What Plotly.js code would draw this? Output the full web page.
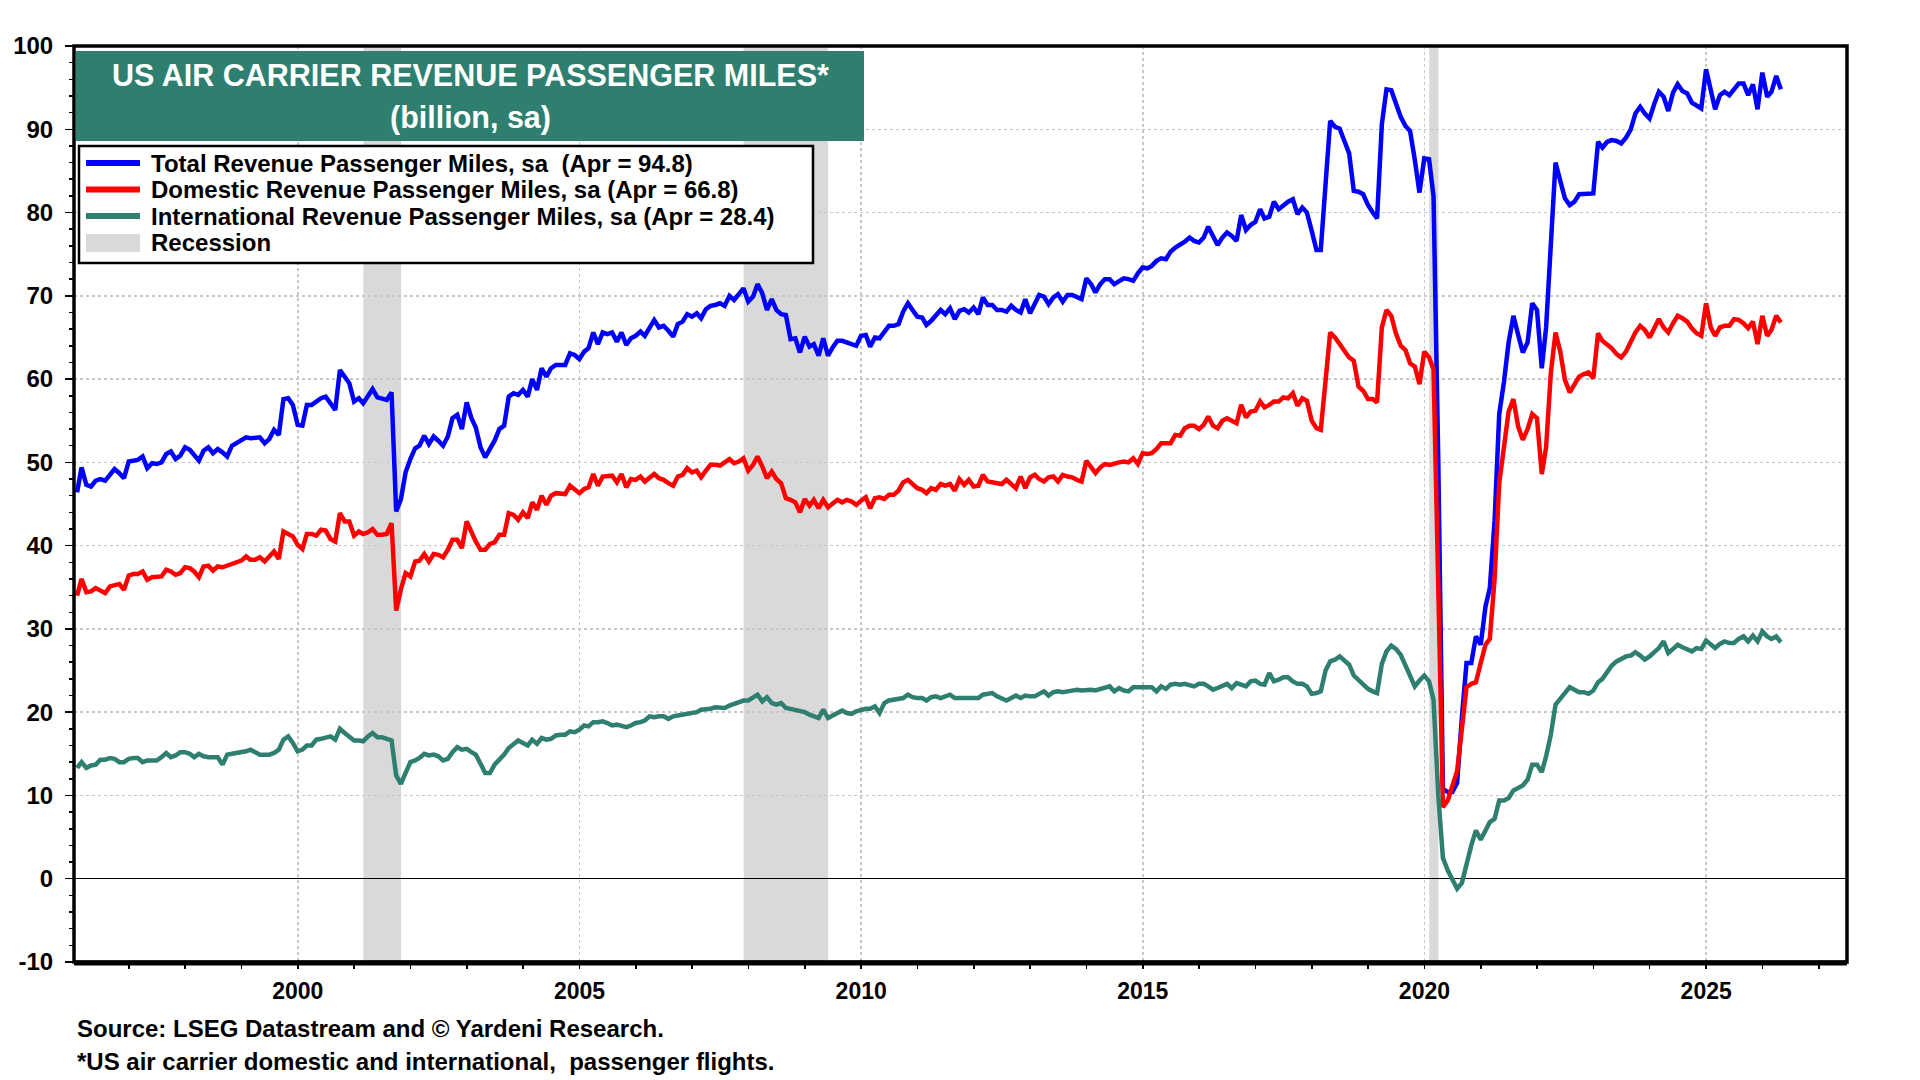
<!DOCTYPE html>
<html>
<head>
<meta charset="utf-8">
<script src="https://cdn.plot.ly/plotly-3.0.1.min.js"></script>
<style>
  html, body { margin: 0; padding: 0; background: #fff; }
  #chart { width: 1920px; height: 1080px; }
</style>
</head>
<body>
<div id="chart"></div>
<script>
// monthly values, Jan 1996 .. Apr 2026, billion miles, seasonally adjusted
const startYear = 1996;

const totalRpm = [
  46.4, 49.4, 47.3, 47.1, 47.8, 48.0, 47.8, 48.6, 49.2, 48.7,
  48.1, 50.1, 50.2, 50.3, 50.7, 49.3, 49.9, 49.8, 50.0, 51.0,
  51.3, 50.4, 50.8, 51.8, 51.5, 50.8, 50.2, 51.4, 51.8, 51.1,
  51.6, 51.2, 50.7, 52.0, 52.3, 52.6, 53.0, 52.9, 53.0, 53.0,
  52.3, 52.8, 53.9, 53.3, 57.6, 57.7, 56.9, 54.5, 54.4, 56.9,
  56.9, 57.3, 57.7, 57.9, 57.1, 56.3, 61.1, 60.3, 59.5, 57.3,
  57.7, 57.1, 58.0, 58.8, 57.8, 57.6, 57.5, 58.4, 44.1,
  45.6, 48.8, 50.4, 51.7, 52.0, 53.2, 52.2, 53.1, 52.6, 52.0,
  53.1, 55.3, 55.7, 54.0, 57.2, 55.3, 54.2, 51.8, 50.6, 51.6,
  52.6, 54.0, 54.4, 57.9, 58.3, 58.1, 58.7, 57.9, 60.0, 58.7,
  61.3, 60.3, 61.3, 61.7, 61.7, 61.7, 63.1, 62.9, 62.4, 63.3,
  63.7, 65.6, 64.2, 65.6, 65.4, 65.6, 64.5, 65.6, 64.1, 64.9,
  65.2, 65.7, 65.2, 66.2, 67.1, 66.2, 66.4, 65.8, 65.1, 66.6,
  66.9, 67.8, 67.5, 67.9, 67.3, 68.4, 68.8, 68.9, 69.1,
  68.8, 70.0, 69.5, 70.2, 70.9, 69.3, 69.9, 71.4,
  70.3, 68.3, 69.6, 68.3, 67.8, 67.7, 64.8, 64.9, 63.2, 65.1,
  63.9, 64.2, 62.8, 64.9, 62.8, 63.8, 64.6, 64.6, 64.4, 64.1,
  64.0, 65.2, 65.3, 63.9, 65.0, 64.9, 65.7, 66.4, 66.4, 66.6,
  68.1, 69.1, 68.3, 67.5, 67.4, 66.5, 67.0, 67.6, 68.3, 67.8,
  68.5, 67.2, 68.2, 68.4, 68.0, 68.6, 67.8, 69.8, 68.9, 68.9,
  68.3, 68.3, 68.1, 68.8, 68.3, 68.0, 69.6, 67.9,
  69.0, 70.1, 69.9, 69.0, 69.8, 70.2, 69.3, 70.1, 70.1, 69.9,
  69.6, 72.1, 71.4, 70.4, 71.4, 72.0, 72.0, 71.4, 71.7, 72.1,
  72.0, 71.8, 72.7, 73.4, 73.3, 73.6, 74.2, 74.5, 74.4, 75.3,
  75.8, 76.1, 76.5, 77.0, 76.6, 76.4, 77.0, 78.3, 77.3, 76.1,
  77.0, 77.6, 77.2, 76.6, 79.7, 77.9, 78.5, 78.9, 80.4, 79.3,
  79.5, 81.3, 80.4, 80.9, 81.3, 81.6, 79.8, 80.6, 80.0, 77.8,
  75.5, 75.5, 84.0, 91.0, 90.3, 90.1, 88.6, 87.1, 82.6, 82.5,
  82.2, 80.9, 80.0, 79.3, 90.6, 94.8, 94.7, 93.2, 91.5, 90.4,
  89.8, 86.3, 82.4, 86.5, 86.4, 82.0, 50.0, 10.8, 10.4, 10.4,
  11.5, 19.4, 25.9, 25.9, 29.1, 28.1, 32.7, 34.9, 43.0, 55.8,
  59.7, 64.4, 67.6, 65.3, 63.2, 64.4, 69.1, 68.3, 61.3, 66.2,
  77.0, 86.0, 83.8, 81.7, 80.9, 81.3, 82.2, 82.2, 82.2, 82.3,
  88.5, 87.8, 88.5, 88.7, 88.6, 88.3, 89.0, 90.0, 91.9, 92.7,
  91.9, 91.3, 93.1, 94.5, 93.9, 92.2, 94.4, 95.4, 94.6, 94.3,
  93.2, 92.9, 92.5, 97.2, 94.8, 92.4, 94.1, 94.5, 94.1, 94.8,
  95.5, 95.5, 94.1, 95.4, 92.4, 96.8, 93.9, 94.5, 96.4, 94.8
];

const domesticRpm = [
  34.0, 36.0, 34.4, 34.5, 34.9, 34.6, 34.3, 35.1, 35.3, 35.4,
  34.7, 36.4, 36.6, 36.6, 36.9, 35.9, 36.2, 36.3, 36.3, 37.1,
  36.9, 36.5, 36.7, 37.4, 37.3, 36.9, 36.2, 37.5, 37.6, 37.0,
  37.5, 37.4, 37.6, 37.8, 38.0, 38.2, 38.7, 38.3, 38.3, 38.6,
  38.1, 38.7, 39.3, 38.4, 41.7, 41.4, 41.1, 40.1, 39.6, 41.4,
  41.4, 41.2, 41.9, 41.8, 40.8, 40.5, 43.9, 42.9, 42.9, 41.2,
  41.7, 41.4, 41.6, 42.0, 41.3, 41.3, 41.4, 42.7, 32.2,
  34.8, 36.7, 36.3, 38.1, 38.2, 39.0, 38.1, 39.0, 38.9, 38.6,
  39.5, 40.7, 40.7, 39.7, 42.9, 41.5, 40.5, 39.5, 39.5, 40.2,
  40.4, 41.3, 41.3, 43.9, 43.7, 43.1, 44.0, 43.3, 45.2, 44.3,
  46.0, 44.9, 46.0, 46.3, 46.3, 46.2, 47.2, 46.7, 46.3, 46.8,
  47.0, 48.6, 47.2, 48.3, 48.3, 48.4, 47.6, 48.6, 47.0, 48.0,
  47.9, 48.3, 47.7, 48.1, 48.6, 48.1, 47.9, 47.5, 47.2, 48.3,
  48.5, 49.3, 48.8, 49.0, 48.2, 49.0, 49.7, 49.7, 49.6,
  50.0, 50.4, 49.9, 50.1, 50.5, 49.0, 49.7, 50.7,
  49.5, 48.1, 48.9, 48.0, 47.5, 45.7, 45.5, 45.2, 44.0, 45.6,
  44.8, 45.5, 44.5, 45.5, 44.6, 45.1, 45.5, 45.2, 45.5, 45.3,
  44.9, 45.4, 45.8, 44.5, 45.7, 45.8, 45.6, 46.1, 46.1, 46.6,
  47.6, 47.9, 47.4, 46.9, 46.7, 46.3, 46.9, 46.7, 47.4, 47.2,
  47.4, 46.6, 48.0, 47.3, 47.9, 47.1, 47.2, 48.5, 47.7, 47.6,
  47.4, 47.4, 47.9, 47.4, 46.9, 48.3, 46.9, 48.2,
  48.5, 48.0, 47.7, 48.2, 48.3, 47.7, 48.5, 48.3, 48.2, 47.9,
  47.7, 50.2, 49.4, 48.7, 49.4, 49.8, 49.7, 49.9, 50.0, 50.1,
  50.0, 50.5, 49.8, 51.1, 51.0, 51.1, 51.6, 52.3, 52.3, 52.3,
  53.3, 53.2, 54.1, 54.4, 54.4, 54.0, 54.5, 55.5, 54.4, 54.1,
  55.0, 55.3, 55.0, 54.7, 56.9, 55.4, 56.1, 56.2, 57.3, 56.6,
  56.9, 57.3, 57.3, 57.8, 57.7, 58.3, 56.8, 57.7, 57.4, 55.0,
  54.1, 53.9, 59.8, 65.6, 65.0, 64.2, 63.6, 62.6, 62.2, 59.1,
  58.6, 57.6, 57.6, 57.2, 66.2, 68.3, 67.6, 65.5, 64.0, 63.5,
  61.9, 61.5, 59.4, 63.3, 62.6, 61.2, 35.0, 8.6, 9.4, 11.2,
  12.9, 18.0, 23.0, 23.4, 23.6, 25.9, 28.1, 28.8, 36.0, 47.5,
  51.8, 56.1, 57.6, 54.3, 52.7, 54.0, 55.8, 55.3, 48.6, 51.8,
  60.8, 65.6, 63.3, 59.9, 58.4, 59.4, 60.3, 60.6, 60.8, 60.1,
  65.5, 64.6, 64.1, 63.7, 63.0, 62.6, 63.3, 64.4, 65.6, 66.4,
  65.9, 65.0, 66.2, 67.2, 66.2, 65.6, 66.7, 67.6, 67.3, 66.9,
  66.1, 65.5, 65.2, 69.1, 66.2, 65.2, 66.2, 66.4, 66.4, 67.2,
  67.1, 66.7, 66.1, 66.9, 64.2, 67.6, 65.2, 65.9, 67.6, 66.8
];

const internationalRpm = [
  13.3, 14.0, 13.3, 13.6, 13.7, 14.3, 14.3, 14.5, 14.4, 14.0,
  14.0, 14.4, 14.5, 14.5, 14.0, 14.2, 14.2, 14.2, 14.6, 15.1,
  14.6, 14.8, 15.2, 15.2, 15.0, 14.6, 15.0, 14.7, 14.6, 14.6,
  14.6, 13.7, 14.9, 15.0, 15.1, 15.1, 15.3, 15.5, 15.2, 14.9,
  14.9, 14.9, 15.1, 15.5, 16.7, 17.1, 16.3, 15.3, 15.5, 16.0,
  16.0, 16.7, 16.8, 17.0, 17.1, 16.7, 18.0, 17.5, 17.1, 16.6,
  16.6, 16.5, 17.1, 17.5, 17.0, 17.0, 16.8, 16.6, 12.4,
  11.4, 12.7, 14.0, 14.2, 14.5, 15.0, 14.8, 14.9, 14.7, 14.2,
  14.4, 15.2, 15.8, 15.5, 15.6, 15.2, 14.9, 13.8, 12.7, 12.7,
  13.7, 14.3, 14.9, 15.7, 16.2, 16.6, 16.3, 16.0, 16.7, 16.2,
  16.9, 16.7, 16.8, 17.2, 17.3, 17.3, 17.7, 17.6, 17.9, 18.4,
  18.3, 18.8, 18.8, 18.9, 18.7, 18.4, 18.5, 18.4, 18.2, 18.4,
  18.7, 18.8, 19.0, 19.5, 19.4, 19.5, 19.5, 19.2, 19.5, 19.6,
  19.7, 19.7, 19.8, 20.0, 20.3, 20.3, 20.4, 20.6, 20.6,
  20.5, 20.8, 21.0, 21.2, 21.4, 21.4, 21.7, 22.1,
  21.3, 21.8, 21.1, 20.9, 21.1, 20.5, 20.4, 20.3, 20.2, 20.0,
  19.7, 19.5, 19.3, 20.3, 19.3, 19.6, 19.9, 20.2, 19.9, 19.8,
  20.1, 20.3, 20.4, 20.4, 20.7, 19.9, 21.1, 21.4, 21.5, 21.5,
  21.7, 22.1, 21.8, 21.7, 21.7, 21.4, 21.8, 21.9, 21.7, 21.9,
  22.1, 21.7, 21.7, 21.7, 21.7, 21.8, 21.7, 22.1, 22.2, 22.3,
  21.9, 21.6, 21.4, 21.7, 22.0, 21.7, 22.0, 21.9,
  21.9, 22.2, 22.5, 22.0, 22.4, 22.5, 22.4, 22.5, 22.6, 22.7,
  22.6, 22.7, 22.7, 22.6, 22.8, 23.0, 23.1, 22.5, 22.9, 22.6,
  22.5, 23.0, 23.0, 23.0, 23.0, 23.0, 22.5, 23.1, 22.8, 23.3,
  23.4, 23.3, 23.4, 23.2, 23.1, 23.4, 23.4, 23.1, 22.7, 22.9,
  23.1, 23.4, 22.9, 23.5, 23.3, 23.1, 23.7, 23.8, 23.4, 23.3,
  24.7, 23.7, 23.9, 24.2, 24.2, 23.7, 23.4, 23.4, 23.1, 22.2,
  22.3, 22.5, 25.0, 26.1, 26.3, 26.7, 26.2, 25.7, 24.4, 23.9,
  23.3, 22.8, 22.5, 22.3, 25.8, 27.3, 28.0, 27.6, 26.9, 25.5,
  24.4, 23.1, 23.8, 24.4, 23.7, 21.5, 10.0, 2.5, 1.0, 0.0,
  -1.2, -0.5, 2.0, 4.0, 5.8, 4.7, 5.8, 6.8, 7.2, 9.4,
  9.4, 9.7, 10.6, 10.9, 11.2, 11.9, 13.7, 13.7, 12.8, 14.7,
  17.3, 20.9, 21.6, 22.3, 23.0, 22.7, 22.4, 22.4, 22.2, 22.6,
  23.6, 24.0, 24.9, 25.6, 26.1, 26.4, 26.7, 26.8, 27.2, 26.8,
  26.3, 26.7, 27.2, 27.7, 28.5, 27.1, 27.6, 28.1, 27.8, 27.6,
  27.3, 27.7, 27.6, 28.6, 28.2, 27.7, 28.2, 28.5, 28.3, 28.3,
  28.8, 29.1, 28.5, 29.2, 28.5, 29.7, 29.1, 28.8, 29.1, 28.4
];

const recessionStart = ['2001-03-01', '2007-12-01', '2020-02-01'];
const recessionEnd = ['2001-11-01', '2009-06-01', '2020-04-01'];

const yTickValues = [-10, 0, 10, 20, 30, 40, 50, 60, 70, 80, 90, 100];
const yTickLabels = yTickValues.map(v => String(v));

const seriesNames = [
  'Total Revenue Passenger Miles, sa\u00a0\u00a0(Apr = 94.8)',
  'Domestic Revenue Passenger Miles, sa (Apr = 66.8)',
  'International Revenue Passenger Miles, sa (Apr = 28.4)'
];
const recessionLabel = 'Recession';
const chartTitle = 'US AIR CARRIER REVENUE PASSENGER MILES*';
const chartSubtitle = '(billion, sa)';
const footnotes = [
  'Source: LSEG Datastream and \u00a9 Yardeni Research.',
  '*US air carrier domestic and international,\u00a0\u00a0passenger flights.'
];

// points sit at the end of each month
const dates = totalRpm.map((_, i) =>
  new Date(Date.UTC(startYear, i + 1, 0)).toISOString().slice(0, 10));

const FONT = 'Liberation Sans, Arial, sans-serif';
const TEAL = '#2e7f70';

// plot area in page pixels, used to place the boxes and notes
const plotLeft = 74, plotRight = 1847, plotTop = 46, plotBottom = 962;
function px(x) { return (x - plotLeft) / (plotRight - plotLeft); }
function py(y) { return (plotBottom - y) / (plotBottom - plotTop); }

const colors = ['#0000ff', '#ff0000', TEAL];
const traces = [totalRpm, domesticRpm, internationalRpm].map((vals, k) => ({
  x: dates,
  y: vals,
  type: 'scatter',
  mode: 'lines',
  name: seriesNames[k],
  line: { color: colors[k], width: 4.5 },
  hoverinfo: 'skip'
}));

const shapes = [];
recessionStart.forEach((s, k) => {
  shapes.push({
    type: 'rect', xref: 'x', yref: 'paper',
    x0: s, x1: recessionEnd[k], y0: 0, y1: 1,
    fillcolor: '#d9d9d9', line: { width: 0 }, layer: 'below'
  });
});

// frame, heavier along the bottom
shapes.push(
  { type: 'rect', xref: 'paper', yref: 'paper', x0: 0, x1: 1, y0: 0, y1: 1,
    line: { color: '#000', width: 3.5 }, layer: 'above' },
  { type: 'line', xref: 'paper', yref: 'paper', x0: 0, x1: 1, y0: py(963), y1: py(963),
    line: { color: '#000', width: 5 }, layer: 'above' }
);

// title box
shapes.push({
  type: 'rect', xref: 'paper', yref: 'paper',
  x0: px(76), x1: px(864), y0: py(141), y1: py(51),
  fillcolor: TEAL, line: { width: 0 }, layer: 'above'
});

// legend box
shapes.push({
  type: 'rect', xref: 'paper', yref: 'paper',
  x0: px(79), x1: px(813), y0: py(263), y1: py(146),
  fillcolor: '#fff', line: { color: '#000', width: 2.5 }, layer: 'above'
});
const rowY = [163, 189.5, 216, 242.5];
colors.forEach((c, k) => {
  shapes.push({
    type: 'line', xref: 'paper', yref: 'paper',
    x0: px(86), x1: px(140), y0: py(rowY[k]), y1: py(rowY[k]),
    line: { color: c, width: 6 }, layer: 'above'
  });
});
shapes.push({
  type: 'rect', xref: 'paper', yref: 'paper',
  x0: px(86), x1: px(140), y0: py(252), y1: py(234),
  fillcolor: '#d9d9d9', line: { width: 0 }, layer: 'above'
});

const annotations = [
  { text: chartTitle, x: px(470), y: py(75), size: 30.5, color: '#fff', xanchor: 'center' },
  { text: chartSubtitle, x: px(470), y: py(118), size: 30.5, color: '#fff', xanchor: 'center' }
];
seriesNames.concat([recessionLabel]).forEach((t, k) => {
  annotations.push({ text: t, x: px(149), y: py(rowY[k]), size: 24, color: '#000', xanchor: 'left' });
});
annotations.push(
  { text: footnotes[0], x: px(75), y: py(1028), size: 24, color: '#000', xanchor: 'left' },
  { text: footnotes[1], x: px(75), y: py(1061), size: 24, color: '#000', xanchor: 'left' }
);

const yTickStyle = {
  range: [-10, 100],
  tickmode: 'array',
  tickvals: yTickValues,
  ticktext: yTickLabels,
  tickwidth: 1.5, tickcolor: '#000', ticks: 'outside',
  tickfont: { family: FONT, size: 24, weight: 'bold', color: '#000' },
  minor: { dtick: 2, ticks: 'outside', ticklen: 4, tickwidth: 1.5,
           tickcolor: '#000', showgrid: false }
};

const layout = {
  width: 1920,
  height: 1080,
  margin: { l: plotLeft, r: 1920 - plotRight, t: plotTop, b: 1080 - plotBottom },
  paper_bgcolor: '#fff',
  plot_bgcolor: 'rgba(0,0,0,0)',
  showlegend: false,
  font: { family: FONT, color: '#000' },
  xaxis: {
    type: 'date',
    range: ['1996-01-11', '2027-07-03'],
    tick0: '2000-01-01',
    dtick: 'M60',
    tickformat: '%Y',
    ticks: 'outside', ticklen: 6, tickwidth: 1.5, tickcolor: '#000',
    tickfont: { family: FONT, size: 23, weight: 'bold', color: '#000' },
    ticklabelstandoff: 2,
    showgrid: true, gridcolor: '#c8c8c8', griddash: 'dot', gridwidth: 1.5,
    showline: false, zeroline: false,
    minor: { dtick: 'M12', tick0: '2000-01-01', ticks: 'outside', ticklen: 6,
             tickwidth: 1.5, tickcolor: '#000', showgrid: false }
  },
  yaxis: Object.assign({}, yTickStyle, {
    ticklen: 8,
    ticklabelstandoff: 7,
    showgrid: true, gridcolor: '#c8c8c8', griddash: 'dot', gridwidth: 1.5,
    zeroline: true, zerolinecolor: '#000', zerolinewidth: 1,
    showline: false
  }),
  yaxis2: Object.assign({}, yTickStyle, {
    overlaying: 'y',
    side: 'right',
    ticklen: 9,
    ticklabelstandoff: 13,
    showgrid: false, zeroline: false, showline: false
  }),
  shapes: shapes,
  annotations: annotations.map(a => ({
    text: a.text, x: a.x, y: a.y, xref: 'paper', yref: 'paper',
    xanchor: a.xanchor, yanchor: 'middle', showarrow: false,
    font: { family: FONT, size: a.size, color: a.color, weight: 'bold' }
  }))
};

Plotly.newPlot('chart', traces, layout, { displayModeBar: false, staticPlot: true });
</script>
</body>
</html>
